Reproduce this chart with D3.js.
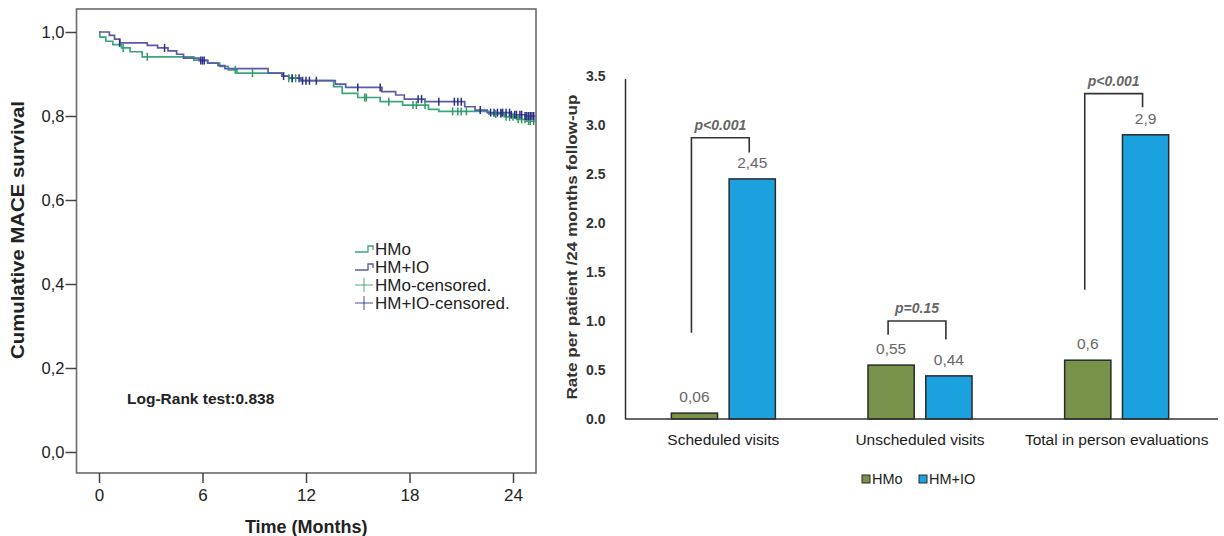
<!DOCTYPE html>
<html>
<head>
<meta charset="utf-8">
<script src="https://cdn.jsdelivr.net/npm/d3@7"></script>
<style>
  html, body { margin: 0; padding: 0; background: #fff; }
  svg { display: block; font-family: "Liberation Sans", Arial, sans-serif; }
</style>
</head>
<body>
<svg id="chart" width="1224" height="536"></svg>
<script>
// ---------- Kaplan–Meier data (left panel) ----------
const kmXTicks = [0, 6, 12, 18, 24];
const kmYTicks = [0, 0.2, 0.4, 0.6, 0.8, 1.0];
const kmYTickLabels = ["0,0", "0,2", "0,4", "0,6", "0,8", "1,0"];

const hmoTimes = [0, 0.05, 0.4, 0.8, 1.3, 1.8, 2.5, 5.5, 6.3, 7.0, 7.5, 8.0, 10.6, 11.0, 11.7, 13.6, 14.1, 15.0, 16.3, 17.6, 19.1, 19.7, 22.6, 23.5, 24.2, 24.8, 25.3];
const hmoSurv  = [1.0, 0.988, 0.978, 0.970, 0.962, 0.953, 0.941, 0.933, 0.926, 0.918, 0.910, 0.902, 0.895, 0.890, 0.884, 0.870, 0.854, 0.844, 0.834, 0.826, 0.816, 0.811, 0.805, 0.798, 0.792, 0.788, 0.788];
const hmoCensor = [1.4, 2.8, 7.9, 8.9, 11.0, 11.2, 11.4, 15.4, 15.5, 16.8, 18.2, 18.4, 18.9, 20.5, 20.8, 21.0, 21.3, 23.0, 23.3, 23.6, 23.8, 24.0, 24.3, 24.5, 24.7, 24.9, 25.0, 25.2];

const hmioTimes = [0, 0.6, 0.9, 1.2, 2.8, 3.4, 4.0, 4.5, 4.9, 5.8, 6.3, 6.9, 7.3, 9.8, 10.6, 11.0, 11.7, 13.7, 14.3, 16.4, 17.2, 17.7, 18.9, 21.2, 21.8, 22.5, 23.9, 24.7, 25.3];
const hmioSurv  = [1.0, 0.992, 0.983, 0.974, 0.968, 0.962, 0.955, 0.947, 0.938, 0.932, 0.926, 0.920, 0.913, 0.902, 0.895, 0.890, 0.884, 0.876, 0.868, 0.858, 0.850, 0.840, 0.834, 0.822, 0.814, 0.808, 0.803, 0.800, 0.800];
const hmioCensor = [1.2, 3.8, 5.9, 6.0, 6.1, 10.7, 11.2, 11.6, 11.8, 12.0, 12.2, 12.6, 15.0, 16.3, 18.5, 18.7, 19.7, 20.6, 20.8, 21.0, 22.1, 22.7, 22.9, 23.1, 23.3, 23.4, 23.6, 23.8, 23.9, 24.1, 24.2, 24.4, 24.5, 24.7, 24.8, 24.9, 25.0, 25.1, 25.2];

const kmLegend = ["HMo", "HM+IO", "HMo-censored.", "HM+IO-censored."];

// ---------- Bar chart data (right panel) ----------
const categories = ["Scheduled visits", "Unscheduled visits", "Total in person evaluations"];
const seriesNames = ["HMo", "HM+IO"];
const hmoValues = [0.06, 0.55, 0.6];
const hmioValues = [2.45, 0.44, 2.9];
const hmoLabels = ["0,06", "0,55", "0,6"];
const hmioLabels = ["2,45", "0,44", "2,9"];
const barYTicks = [0, 0.5, 1.0, 1.5, 2.0, 2.5, 3.0, 3.5];
const pLabels = ["p<0.001", "p=0.15", "p<0.001"];
const bracketTop = [2.87, 1.0, 3.32];
const bracketLeftEnd = [0.88, 0.86, 1.32];
const bracketRightEnd = [2.72, 0.81, 3.18];

// ---------- drawing ----------
const svg = d3.select("#chart");
const GREEN_LINE = "#3ba57c", PURPLE_LINE = "#5a5aa8";
const GREEN_CENS = "#2f9a62", PURPLE_CENS = "#2a2d86";

// Left panel
const xK = d3.scaleLinear().domain([0, 24]).range([99, 513]);
const yK = d3.scaleLinear().domain([0, 1]).range([452, 32]);
const frame = { l: 76.5, r: 536, t: 9, b: 473 };

const left = svg.append("g");
left.append("rect")
  .attr("x", frame.l).attr("y", frame.t)
  .attr("width", frame.r - frame.l).attr("height", frame.b - frame.t)
  .attr("fill", "none").attr("stroke", "#6a6a6a").attr("stroke-width", 1.6);

// y axis ticks
const yAx = d3.axisLeft(yK).tickValues(kmYTicks).tickSize(11)
  .tickFormat((d, i) => kmYTickLabels[i]);
const gy = left.append("g").attr("transform", `translate(${frame.l},0)`).call(yAx);
gy.select(".domain").remove();
gy.selectAll(".tick line").attr("stroke", "#444").attr("stroke-width", 1.5);
gy.selectAll(".tick text").attr("font-size", 16.5).attr("fill", "#222")
  .attr("font-family", "Liberation Sans, Arial, sans-serif").attr("x", -12);

// x axis ticks
const xAx = d3.axisBottom(xK).tickValues(kmXTicks).tickSize(10).tickFormat(d3.format("d"));
const gx = left.append("g").attr("transform", `translate(0,${frame.b})`).call(xAx);
gx.select(".domain").remove();
gx.selectAll(".tick line").attr("stroke", "#444").attr("stroke-width", 1.5);
gx.selectAll(".tick text").attr("font-size", 17).attr("fill", "#222")
  .attr("font-family", "Liberation Sans, Arial, sans-serif").attr("y", 16);

left.append("text").attr("x", (frame.l + frame.r) / 2).attr("y", 533)
  .attr("text-anchor", "middle").attr("font-size", 18).attr("font-weight", "bold")
  .attr("fill", "#222").text("Time (Months)");
left.append("text")
  .attr("transform", "translate(24,230) rotate(-90)")
  .attr("text-anchor", "middle").attr("font-size", 18).attr("font-weight", "bold")
  .attr("fill", "#222").attr("textLength", 258).attr("lengthAdjust", "spacingAndGlyphs")
  .text("Cumulative MACE survival");

const stepLine = d3.line().x(d => xK(d[0])).y(d => yK(d[1])).curve(d3.curveStepAfter);
function survAt(times, surv, t) {
  const i = d3.bisectRight(times, t) - 1;
  return surv[Math.max(0, i)];
}
const curves = [
  { times: hmoTimes, surv: hmoSurv, cens: hmoCensor, line: GREEN_LINE, mark: GREEN_CENS },
  { times: hmioTimes, surv: hmioSurv, cens: hmioCensor, line: PURPLE_LINE, mark: PURPLE_CENS }
];
curves.forEach(c => {
  left.append("path").datum(c.times.map((t, i) => [t, c.surv[i]]))
    .attr("d", stepLine).attr("fill", "none")
    .attr("stroke", c.line).attr("stroke-width", 1.7);
});
curves.forEach(c => {
  left.selectAll(null).data(c.cens).enter().append("line")
    .attr("x1", d => xK(d)).attr("x2", d => xK(d))
    .attr("y1", d => yK(survAt(c.times, c.surv, d)) - 4)
    .attr("y2", d => yK(survAt(c.times, c.surv, d)) + 4)
    .attr("stroke", c.mark).attr("stroke-width", 1.5);
});

// KM legend
const legColors = [GREEN_LINE, PURPLE_LINE, GREEN_CENS, PURPLE_CENS];
kmLegend.forEach((name, i) => {
  const cy = 249 + i * 18;
  const g = left.append("g");
  if (i < 2) {
    g.append("path")
      .attr("d", `M355,${cy + 3}H368V${cy - 3}H373V${cy + 1}`)
      .attr("fill", "none").attr("stroke", legColors[i]).attr("stroke-width", 1.3);
  } else {
    g.append("line").attr("x1", 355).attr("x2", 373).attr("y1", cy).attr("y2", cy)
      .attr("stroke", legColors[i]).attr("stroke-width", 1.2).attr("opacity", 0.7);
    g.append("line").attr("x1", 364).attr("x2", 364).attr("y1", cy - 7).attr("y2", cy + 7)
      .attr("stroke", legColors[i]).attr("stroke-width", 1.2).attr("opacity", 0.7);
  }
  g.append("text").attr("x", 375).attr("y", cy + 6)
    .attr("font-size", 17).attr("fill", "#222").text(name);
});

left.append("text").attr("x", 127).attr("y", 404)
  .attr("font-size", 15.5).attr("font-weight", "bold").attr("fill", "#222")
  .text("Log-Rank test:0.838");

// Right panel
const right = svg.append("g");
const x0 = d3.scaleBand().domain(categories).range([625, 1215]).paddingInner(0.471).paddingOuter(0.2355);
const x1 = d3.scaleBand().domain(seriesNames).range([0, x0.bandwidth()]).paddingInner(0.2);
const yB = d3.scaleLinear().domain([0, 3.5]).range([419, 76]);
const barColors = { "HMo": "#77924b", "HM+IO": "#1ba1dd" };

const yAxB = d3.axisLeft(yB).tickValues(barYTicks).tickSize(0).tickPadding(20)
  .tickFormat(d3.format(".1f"));
const gyb = right.append("g").attr("transform", "translate(625.5,0)").call(yAxB);
gyb.select(".domain").remove();
gyb.selectAll(".tick text").attr("font-size", 14).attr("font-weight", "bold")
  .attr("fill", "#333").attr("font-family", "Liberation Sans, Arial, sans-serif");
right.append("line").attr("x1", 625.5).attr("x2", 625.5).attr("y1", yB(3.47)).attr("y2", yB(0))
  .attr("stroke", "#333").attr("stroke-width", 1.5);

right.append("text")
  .attr("transform", "translate(577,247) rotate(-90)")
  .attr("text-anchor", "middle").attr("font-size", 14).attr("font-weight", "bold")
  .attr("fill", "#333").attr("textLength", 305).attr("lengthAdjust", "spacingAndGlyphs")
  .text("Rate per patient /24 months follow-up");

const rows = categories.map((c, i) => ({
  cat: c, vals: [
    { s: "HMo", v: hmoValues[i], lab: hmoLabels[i] },
    { s: "HM+IO", v: hmioValues[i], lab: hmioLabels[i] }
  ]
}));
const grp = right.selectAll(".grp").data(rows).enter().append("g")
  .attr("transform", d => `translate(${x0(d.cat)},0)`);
grp.selectAll("rect").data(d => d.vals).enter().append("rect")
  .attr("x", d => x1(d.s)).attr("width", x1.bandwidth())
  .attr("y", d => yB(d.v)).attr("height", d => yB(0) - yB(d.v))
  .attr("fill", d => barColors[d.s]).attr("stroke", "#2a2a2a").attr("stroke-width", 1.5);
grp.selectAll(".vl").data(d => d.vals).enter().append("text")
  .attr("x", d => x1(d.s) + x1.bandwidth() / 2).attr("y", d => yB(d.v) - 11)
  .attr("text-anchor", "middle").attr("font-size", 15.5).attr("fill", "#666")
  .text(d => d.lab);

// x axis baseline
right.append("line").attr("x1", 625).attr("x2", 1218).attr("y1", yB(0)).attr("y2", yB(0))
  .attr("stroke", "#333").attr("stroke-width", 1.5);
// category labels
right.selectAll(".cl").data(categories).enter().append("text")
  .attr("x", d => x0(d) + x0.bandwidth() / 2).attr("y", 445)
  .attr("text-anchor", "middle").attr("font-size", 15.5).attr("fill", "#1a1a1a")
  .text(d => d);

// significance brackets
categories.forEach((c, i) => {
  const xl = x0(c) + x1("HMo") + x1.bandwidth() / 2 - 3;
  const xr = x0(c) + x1("HM+IO") + x1.bandwidth() / 2 - 3;
  right.append("path")
    .attr("d", `M${xl},${yB(bracketLeftEnd[i])}V${yB(bracketTop[i])}H${xr}V${yB(bracketRightEnd[i])}`)
    .attr("fill", "none").attr("stroke", "#333").attr("stroke-width", 1.6);
  right.append("text").attr("x", (xl + xr) / 2).attr("y", yB(bracketTop[i]) - 8)
    .attr("text-anchor", "middle").attr("font-size", 14).attr("font-style", "italic")
    .attr("font-weight", "bold").attr("fill", "#666").text(pLabels[i]);
});

// bar legend
const lg = right.append("g");
const legX = [862, 919];
seriesNames.forEach((s, i) => {
  lg.append("rect").attr("x", legX[i]).attr("y", 475).attr("width", 8).attr("height", 8)
    .attr("fill", barColors[s]).attr("stroke", "#2a2a2a").attr("stroke-width", 1);
  lg.append("text").attr("x", legX[i] + 10).attr("y", 484)
    .attr("font-size", 14.5).attr("fill", "#222").text(s);
});
</script>
</body>
</html>
